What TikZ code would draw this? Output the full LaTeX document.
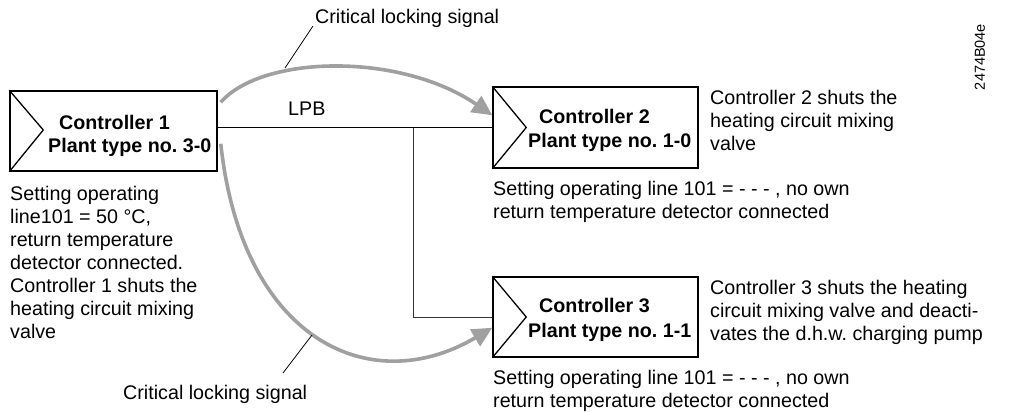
\documentclass[tikz,border=0pt]{standalone}
\usepackage{fontspec}
\setmainfont{Liberation Sans}
\usetikzlibrary{calc,arrows.meta}
\definecolor{siggray}{HTML}{A0A0A0}
\tikzset{
  ctrl/.style={draw=black, line width=1.5pt, minimum width=205pt, minimum height=80pt, inner sep=0pt},
  tri/.style={draw=black, line width=1.3pt},
  txt/.style={font=\fontsize{19.7pt}{23pt}\selectfont\frenchspacing, align=left, inner sep=0pt, anchor=base west},
  btxt/.style={font=\fontsize{19.7pt}{23pt}\selectfont\bfseries\frenchspacing, inner sep=0pt, anchor=base west},
  lpb/.style={draw=black, line width=1.4pt},
  branch/.style={draw=black!80, line width=1pt},
  sig/.style={draw=siggray, line width=3.6pt, -{Triangle[length=20pt,width=19pt]}},
  leader/.style={draw=black, line width=0.8pt}
}
\begin{document}
\begin{tikzpicture}[x=1pt, y=-1pt]
\useasboundingbox (0,0) rectangle (1013,412);
% controller boxes
\node[ctrl, minimum width=207pt] (c1) at (113.5,131) {};
\node[ctrl, minimum height=81pt] (c2) at (595.5,127.5) {};
\node[ctrl] (c3) at (595.5,317) {};
\draw[tri] (c1.north west) -- ($(c1.west)+(34,-1)$) -- (c1.south west);
\draw[tri] (c2.north west) -- ($(c2.west)+(34,0)$) -- (c2.south west);
\draw[tri] (c3.north west) -- ($(c3.west)+(34,0)$) -- (c3.south west);
% box labels
\node[btxt] (c1a) at (59,129) {Controller 1};
\node[btxt] (c1b) at (48,153) {Plant type no. 3-0};
\node[btxt] (c2a) at (539,124) {Controller 2};
\node[btxt] (c2b) at (528,147) {Plant type no. 1-0};
\node[btxt] (c3a) at (539,312) {Controller 3};
\node[btxt] (c3b) at (528,337) {Plant type no. 1-1};
% LPB bus
\draw[lpb] (c1.east |- c2.west) -- (c2.west);
\coordinate (j) at (413,128);
\draw[branch] (j) |- (c3.west);
\node[txt] (lpbl) at (288,115) {LPB};
% signals
\draw[sig] ($(c1.north east)+(3,12)$) .. controls (262,55) and (400,52) .. ($(c2.north west)+(0,29)$);
\draw[sig] ($(c1.south east)+(3,-28)$) .. controls (242,340) and (370,400) .. ($(c3.south west)+(0,-30)$);
\node[txt] (s1) at (315,24) {Critical locking signal};
\node[txt] (s2) at (123,399) {Critical locking signal};
\coordinate (l1a) at (313,26);
\coordinate (l1b) at (285,68);
\coordinate (l2a) at (283,373);
\coordinate (l2b) at (312,335);
\draw[leader] (l1a) -- (l1b);
\draw[leader] (l2a) -- (l2b);
% descriptions (base anchor = baseline of last line)
\node[txt] (d1) at (10,338) {Setting operating\\line101 = 50 °C,\\return temperature\\detector connected.\\Controller 1 shuts the\\heating circuit mixing\\valve};
\node[txt] (d2) at (710,150) {Controller 2 shuts the\\heating circuit mixing\\valve};
\node[txt] (d2b) at (493,218) {Setting operating line 101 = - - - , no own\\return temperature detector connected};
\node[txt] (d3) at (710,340) {Controller 3 shuts the heating\\circuit mixing valve and deacti-\\vates the d.h.w. charging pump};
\node[txt] (d3b) at (493,407) {Setting operating line 101 = - - - , no own\\return temperature detector connected};
% document number
\node[font=\fontsize{14.5pt}{16pt}\selectfont, inner sep=0pt, rotate=90] (doc) at (980,57) {2474B04e};
\end{tikzpicture}
\end{document}
